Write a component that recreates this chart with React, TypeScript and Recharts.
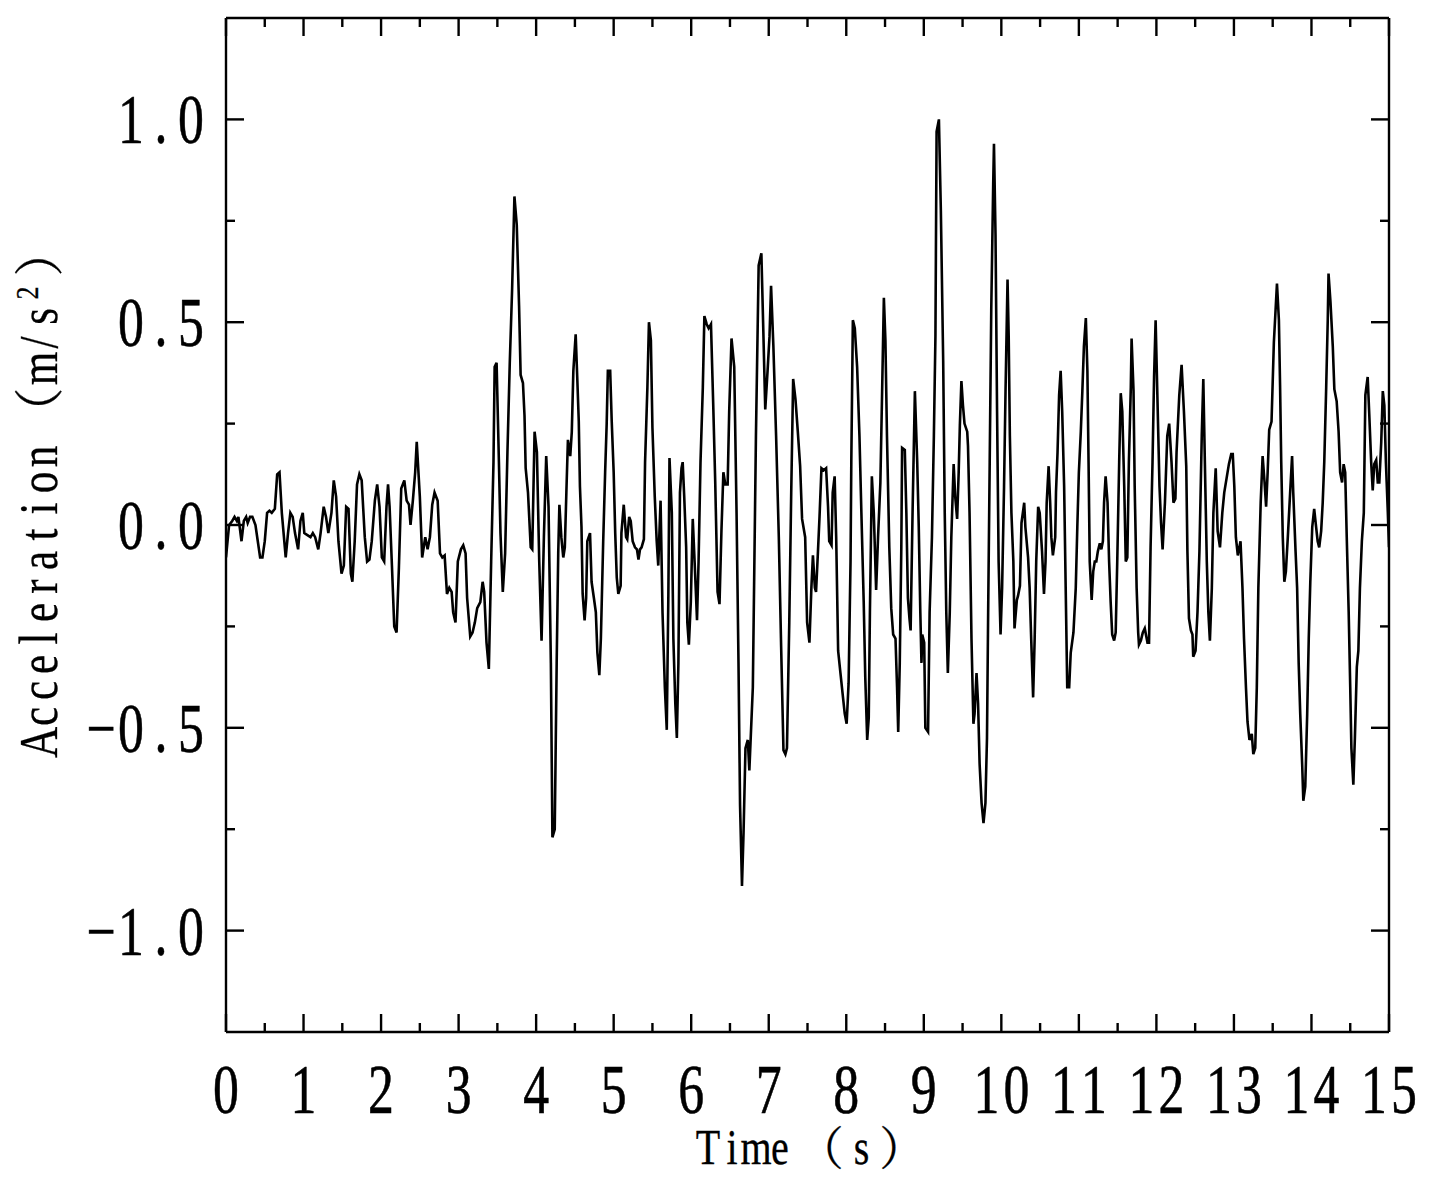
import React from 'react';
import { LineChart, Line, XAxis, YAxis } from 'recharts';

// ---------- data ----------
const time: number[] = [
  0, 0.04, 0.08, 0.11, 0.14, 0.16, 0.20, 0.23, 0.26, 0.28,
  0.31, 0.34, 0.38, 0.41, 0.44, 0.47, 0.50, 0.53, 0.56, 0.59,
  0.63, 0.66, 0.69, 0.72, 0.77, 0.80, 0.83, 0.86, 0.89, 0.93,
  0.96, 0.99, 1.01, 1.05, 1.09, 1.12, 1.15, 1.19, 1.22, 1.26,
  1.29, 1.32, 1.36, 1.39, 1.42, 1.45, 1.49, 1.52, 1.55, 1.58,
  1.61, 1.63, 1.66, 1.69, 1.72, 1.75, 1.79, 1.82, 1.85, 1.88,
  1.92, 1.95, 1.98, 2.01, 2.04, 2.07, 2.09, 2.11, 2.14, 2.17,
  2.20, 2.23, 2.26, 2.30, 2.33, 2.36, 2.38, 2.41, 2.44, 2.46,
  2.50, 2.53, 2.55, 2.57, 2.60, 2.63, 2.66, 2.69, 2.73, 2.76,
  2.79, 2.82, 2.85, 2.88, 2.91, 2.93, 2.96, 2.99, 3.03, 3.06,
  3.09, 3.11, 3.15, 3.18, 3.21, 3.24, 3.28, 3.31, 3.33, 3.36,
  3.39, 3.42, 3.45, 3.465, 3.49, 3.52, 3.54, 3.57, 3.60, 3.63,
  3.66, 3.69, 3.72, 3.75, 3.78, 3.80, 3.83, 3.85, 3.865, 3.895,
  3.93, 3.95, 3.98, 4.01, 4.04, 4.07, 4.10, 4.13, 4.16, 4.19,
  4.21, 4.24, 4.265, 4.285, 4.30, 4.325, 4.35, 4.37, 4.39, 4.41,
  4.44, 4.46, 4.48, 4.51, 4.53, 4.55, 4.565, 4.585, 4.60, 4.625,
  4.645, 4.66, 4.695, 4.715, 4.745, 4.77, 4.79, 4.815, 4.835, 4.865,
  4.89, 4.91, 4.925, 4.955, 4.975, 5.00, 5.02, 5.04, 5.06, 5.09,
  5.10, 5.13, 5.16, 5.175, 5.20, 5.22, 5.245, 5.275, 5.30, 5.32,
  5.34, 5.36, 5.39, 5.405, 5.435, 5.455, 5.48, 5.50, 5.53, 5.555,
  5.575, 5.605, 5.63, 5.66, 5.685, 5.705, 5.72, 5.75, 5.77, 5.795,
  5.815, 5.835, 5.855, 5.875, 5.89, 5.91, 5.935, 5.95, 5.97, 5.995,
  6.02, 6.045, 6.075, 6.095, 6.12, 6.15, 6.17, 6.20, 6.225, 6.255,
  6.285, 6.31, 6.34, 6.365, 6.39, 6.415, 6.44, 6.47, 6.49, 6.52,
  6.555, 6.585, 6.61, 6.63, 6.655, 6.675, 6.70, 6.73, 6.75, 6.795,
  6.835, 6.87, 6.905, 6.93, 6.955, 6.985, 7.01, 7.03, 7.06, 7.095,
  7.13, 7.16, 7.19, 7.215, 7.235, 7.265, 7.29, 7.315, 7.345, 7.375,
  7.405, 7.43, 7.47, 7.495, 7.525, 7.55, 7.57, 7.595, 7.61, 7.635,
  7.655, 7.68, 7.71, 7.74, 7.765, 7.78, 7.81, 7.825, 7.85, 7.87,
  7.895, 7.925, 7.955, 7.98, 8.005, 8.03, 8.055, 8.065, 8.085, 8.11,
  8.14, 8.17, 8.195, 8.225, 8.245, 8.27, 8.29, 8.305, 8.33, 8.355,
  8.385, 8.41, 8.44, 8.46, 8.485, 8.505, 8.525, 8.555, 8.58, 8.605,
  8.635, 8.655, 8.67, 8.69, 8.71, 8.72, 8.755, 8.775, 8.795, 8.815,
  8.83, 8.855, 8.885, 8.915, 8.935, 8.955, 8.97, 8.98, 9.005, 9.02,
  9.055, 9.075, 9.105, 9.13, 9.15, 9.165, 9.195, 9.22, 9.25, 9.27,
  9.29, 9.31, 9.335, 9.355, 9.385, 9.405, 9.43, 9.45, 9.465, 9.485,
  9.505, 9.525, 9.56, 9.57, 9.59, 9.615, 9.64, 9.655, 9.68, 9.70,
  9.72, 9.745, 9.77, 9.795, 9.815, 9.83, 9.85, 9.87, 9.895, 9.905,
  9.925, 9.945, 9.965, 9.99, 10.01, 10.035, 10.055, 10.08, 10.095, 10.11,
  10.13, 10.155, 10.17, 10.20, 10.215, 10.24, 10.26, 10.295, 10.31, 10.345,
  10.365, 10.385, 10.41, 10.43, 10.45, 10.475, 10.495, 10.525, 10.55, 10.57,
  10.585, 10.61, 10.63, 10.645, 10.665, 10.695, 10.705, 10.725, 10.745, 10.765,
  10.785, 10.81, 10.83, 10.85, 10.875, 10.895, 10.93, 10.96, 10.98, 11.00,
  11.025, 11.045, 11.065, 11.09, 11.11, 11.125, 11.14, 11.165, 11.185, 11.205,
  11.225, 11.245, 11.27, 11.29, 11.31, 11.325, 11.345, 11.37, 11.39, 11.41,
  11.43, 11.455, 11.475, 11.495, 11.52, 11.54, 11.56, 11.585, 11.605, 11.625,
  11.645, 11.67, 11.68, 11.705, 11.72, 11.745, 11.765, 11.775, 11.80, 11.825,
  11.85, 11.885, 11.905, 11.925, 11.95, 11.97, 11.99, 12.01, 12.04, 12.06,
  12.08, 12.11, 12.14, 12.165, 12.195, 12.22, 12.245, 12.26, 12.295, 12.325,
  12.355, 12.385, 12.40, 12.42, 12.445, 12.465, 12.475, 12.505, 12.53, 12.555,
  12.585, 12.605, 12.625, 12.65, 12.67, 12.69, 12.715, 12.735, 12.765, 12.79,
  12.82, 12.85, 12.875, 12.905, 12.935, 12.965, 12.985, 13.005, 13.025, 13.05,
  13.07, 13.085, 13.11, 13.13, 13.155, 13.175, 13.20, 13.23, 13.25, 13.275,
  13.295, 13.315, 13.345, 13.37, 13.395, 13.415, 13.435, 13.455, 13.485, 13.515,
  13.555, 13.58, 13.595, 13.61, 13.63, 13.65, 13.67, 13.695, 13.725, 13.75,
  13.765, 13.795, 13.815, 13.835, 13.855, 13.88, 13.895, 13.92, 13.945, 13.965,
  13.985, 14.01, 14.035, 14.06, 14.08, 14.10, 14.125, 14.145, 14.165, 14.19,
  14.21, 14.22, 14.245, 14.275, 14.295, 14.325, 14.35, 14.37, 14.395, 14.415,
  14.435, 14.455, 14.48, 14.50, 14.515, 14.54, 14.56, 14.585, 14.605, 14.625,
  14.65, 14.675, 14.695, 14.725, 14.745, 14.77, 14.79, 14.81, 14.835, 14.855,
  14.875, 14.9, 14.92, 14.94, 14.96, 14.985, 15.0,
];

const accel: number[] = [
  -0.08, 0.0, 0.01, 0.02, 0.01, 0.02, -0.04, 0.01, 0.02, 0.005,
  0.02, 0.02, 0.0, -0.04, -0.08, -0.08, -0.04, 0.03, 0.035, 0.03,
  0.04, 0.125, 0.13, 0.03, -0.08, -0.02, 0.03, 0.02, -0.02, -0.06,
  0.01, 0.03, -0.02, -0.025, -0.03, -0.02, -0.03, -0.06, -0.02, 0.045,
  0.02, -0.02, 0.03, 0.11, 0.07, -0.04, -0.12, -0.10, 0.045, 0.04,
  -0.12, -0.14, -0.04, 0.10, 0.125, 0.11, -0.03, -0.09, -0.085, -0.04,
  0.06, 0.10, 0.045, -0.08, -0.09, 0.045, 0.10, 0.045, -0.10, -0.25,
  -0.265, -0.105, 0.09, 0.11, 0.06, 0.05, 0.0, 0.06, 0.13, 0.205,
  0.07, -0.08, -0.055, -0.03, -0.06, -0.03, 0.05, 0.08, 0.06, -0.07,
  -0.08, -0.075, -0.17, -0.155, -0.165, -0.215, -0.24, -0.09, -0.06, -0.05,
  -0.07, -0.18, -0.275, -0.265, -0.24, -0.205, -0.19, -0.14, -0.165, -0.29,
  -0.355, -0.09, 0.155, 0.39, 0.40, 0.155, -0.02, -0.165, -0.07, 0.18,
  0.40, 0.58, 0.81, 0.74, 0.54, 0.37, 0.35, 0.27, 0.14, 0.08,
  -0.055, -0.06, 0.23, 0.18, -0.09, -0.285, -0.03, 0.17, 0.045, -0.34,
  -0.77, -0.75, -0.34, -0.07, 0.05, -0.03, -0.08, -0.055, 0.08, 0.21,
  0.17, 0.23, 0.38, 0.47, 0.365, 0.255, 0.095, -0.005, -0.17, -0.235,
  -0.18, -0.04, -0.02, -0.14, -0.18, -0.215, -0.315, -0.37, -0.28, -0.04,
  0.13, 0.25, 0.38, 0.38, 0.255, 0.13, -0.02, -0.13, -0.17, -0.15,
  -0.02, 0.05, -0.03, -0.035, 0.02, 0.01, -0.04, -0.055, -0.06, -0.085,
  -0.06, -0.055, -0.035, 0.155, 0.34, 0.50, 0.455, 0.24, 0.07, -0.04,
  -0.10, 0.06, -0.215, -0.40, -0.505, -0.18, 0.165, 0.03, -0.28, -0.44,
  -0.525, -0.34, 0.08, 0.14, 0.155, 0.07, -0.055, -0.24, -0.295, -0.19,
  0.015, -0.095, -0.235, -0.09, 0.155, 0.34, 0.515, 0.495, 0.485, 0.495,
  0.29, 0.105, -0.165, -0.195, -0.015, 0.13, 0.10, 0.10, 0.28, 0.46,
  0.39, 0.03, -0.34, -0.69, -0.89, -0.76, -0.55, -0.53, -0.605, -0.40,
  0.22, 0.64, 0.67, 0.48, 0.285, 0.38, 0.465, 0.59, 0.44, 0.22,
  -0.03, -0.30, -0.555, -0.565, -0.55, -0.24, 0.08, 0.36, 0.31, 0.23,
  0.145, 0.015, -0.03, -0.24, -0.29, -0.155, -0.075, -0.155, -0.165, -0.065,
  0.02, 0.14, 0.135, 0.14, 0.045, -0.04, -0.05, 0.08, 0.12, -0.03,
  -0.31, -0.365, -0.42, -0.465, -0.49, -0.39, -0.09, 0.155, 0.505, 0.485,
  0.39, 0.22, 0.03, -0.19, -0.375, -0.53, -0.475, -0.215, 0.12, 0.03,
  -0.16, -0.03, 0.105, 0.305, 0.56, 0.455, 0.22, -0.055, -0.205, -0.27,
  -0.28, -0.40, -0.51, -0.34, -0.055, 0.19, 0.185, 0.03, -0.18, -0.23,
  -0.26, 0.03, 0.33, 0.155, -0.005, -0.215, -0.34, -0.27, -0.29, -0.50,
  -0.51, -0.215, -0.03, 0.22, 0.465, 0.97, 1.0, 0.775, 0.405, 0.03,
  -0.215, -0.365, -0.215, -0.03, 0.15, 0.07, 0.015, 0.13, 0.245, 0.355,
  0.295, 0.25, 0.23, 0.195, 0.03, -0.28, -0.49, -0.465, -0.365, -0.44,
  -0.59, -0.685, -0.735, -0.685, -0.525, -0.215, 0.155, 0.53, 0.84, 0.94,
  0.715, 0.28, -0.09, -0.27, -0.155, 0.095, 0.34, 0.605, 0.465, 0.22,
  0.03, -0.09, -0.255, -0.185, -0.175, -0.15, 0.005, 0.055, -0.005, -0.08,
  -0.155, -0.28, -0.425, -0.28, -0.09, 0.045, 0.03, -0.065, -0.17, -0.09,
  0.055, 0.145, 0.055, -0.03, -0.075, -0.03, 0.08, 0.18, 0.32, 0.38,
  0.28, 0.095, -0.155, -0.40, -0.40, -0.315, -0.265, -0.155, -0.005, 0.13,
  0.23, 0.33, 0.44, 0.51, 0.38, 0.155, -0.09, -0.185, -0.115, -0.09,
  -0.09, -0.065, -0.045, -0.06, -0.04, 0.055, 0.12, 0.055, -0.09, -0.19,
  -0.27, -0.285, -0.265, -0.09, 0.155, 0.325, 0.28, 0.095, -0.09, -0.08,
  0.155, 0.34, 0.46, 0.33, 0.095, -0.155, -0.265, -0.295, -0.285, -0.265,
  -0.255, -0.29, -0.29, -0.055, 0.155, 0.365, 0.505, 0.34, 0.095, 0.005,
  -0.06, 0.055, 0.22, 0.25, 0.155, 0.055, 0.065, 0.18, 0.32, 0.395,
  0.28, 0.145, -0.065, -0.23, -0.26, -0.27, -0.325, -0.31, -0.215, -0.065,
  0.22, 0.36, 0.155, -0.09, -0.215, -0.285, -0.155, 0.03, 0.14, -0.015,
  -0.055, 0.03, 0.08, 0.115, 0.15, 0.175, 0.175, 0.095, -0.03, -0.075,
  -0.055, -0.04, -0.155, -0.28, -0.40, -0.485, -0.53, -0.515, -0.565, -0.55,
  -0.40, -0.155, 0.055, 0.17, 0.105, 0.045, 0.13, 0.235, 0.255, 0.45,
  0.595, 0.505, 0.345, 0.155, -0.03, -0.14, -0.115, -0.03, 0.08, 0.17,
  0.08, -0.065, -0.155, -0.34, -0.465, -0.59, -0.68, -0.645, -0.465, -0.28,
  -0.14, -0.005, 0.04, -0.005, -0.04, -0.055, -0.015, 0.055, 0.155, 0.34,
  0.505, 0.62, 0.55, 0.44, 0.335, 0.305, 0.23, 0.13, 0.105, 0.15,
  0.13, -0.03, -0.215, -0.40, -0.55, -0.64, -0.525, -0.35, -0.31, -0.155,
  -0.04, 0.03, 0.32, 0.365, 0.275, 0.155, 0.085, 0.15, 0.16, 0.105,
  0.105, 0.205, 0.33, 0.295, 0.155, 0.03, -0.055,
];

const xMajorTicks = [0, 1, 2, 3, 4, 5, 6, 7, 8, 9, 10, 11, 12, 13, 14, 15];
const xMinorTicks = [0.5, 1.5, 2.5, 3.5, 4.5, 5.5, 6.5, 7.5, 8.5, 9.5, 10.5, 11.5, 12.5, 13.5, 14.5];
const yMajorTicks = [-1, -0.5, 0, 0.5, 1];
const yMinorTicks = [-0.75, -0.25, 0.25, 0.75];
const xDomain: [number, number] = [0, 15];
const yDomain: [number, number] = [-1.25, 1.25];
const xLabelText = 'Time（s）';
const yLabelParts = { before: 'Acceleration（m/s', sup: '2', after: '）' };

const data = time.map((t, i) => ({ t, a: accel[i] }));
const xTicks = [...xMajorTicks, ...xMinorTicks].sort((a, b) => a - b);
const yTicks = [...yMajorTicks, ...yMinorTicks].sort((a, b) => a - b);

// ---------- text helpers (monospaced serif look) ----------
const FONT = "'Liberation Serif', 'Noto Serif CJK SC', 'Noto Sans CJK SC', serif";
const isFull = (ch: string) => ch.charCodeAt(0) > 0x2e80;
type Glyph = { ch: string; sup?: boolean };
const toGlyphs = (s: string): Glyph[] => Array.from(s).map((ch) => ({ ch }));

function MonoText(props: {
  x: number; y: number; glyphs: Glyph[]; adv: number; fontSize: number; sx: number;
  anchor: 'start' | 'middle' | 'end'; weight?: number;
}) {
  const { x, y, glyphs, adv, fontSize, sx, anchor, weight = 0 } = props;
  const widths = glyphs.map((g) =>
    g.sup ? adv * 0.8 : isFull(g.ch) ? Math.max(adv * 2, fontSize * 1.15) : adv,
  );
  const total = widths.reduce((a, b) => a + b, 0);
  let cur = anchor === 'middle' ? x - total / 2 : anchor === 'end' ? x - total : x;
  return (
    <g>
      {glyphs.map((g, i) => {
        const cx = cur + widths[i] / 2;
        cur += widths[i];
        const full = isFull(g.ch);
        const fs = g.sup ? fontSize * 0.6 : full ? fontSize * 0.92 : fontSize;
        const by = g.sup ? y - fontSize * 0.36 : y;
        const s = full ? 1 : sx;
        return (
          <text key={i} transform={`translate(${cx},${by}) scale(${s},1)`} textAnchor="middle"
            fontFamily={FONT} fontSize={fs} fill="#000"
            stroke={weight ? '#000' : 'none'} strokeWidth={weight}>{g.ch}</text>
        );
      })}
    </g>
  );
}

// ---------- ticks ----------
const MAJOR_LEN = 18;
const MINOR_LEN = 9;
const STROKE = 2.4;
const TICK_FS = 70;
const fmtY = (v: number) => (v < 0 ? '−' : '') + Math.abs(v).toFixed(1);

function BottomTick(p: any) {
  const { x, y, payload } = p;
  const major = xMajorTicks.includes(payload.value);
  return (
    <g>
      <line x1={x} y1={y} x2={x} y2={y - (major ? MAJOR_LEN : MINOR_LEN)} stroke="#000" strokeWidth={STROKE} />
      {major && (
        <MonoText x={x} y={y + 81} glyphs={toGlyphs(String(payload.value))} adv={30} fontSize={TICK_FS} sx={0.74} anchor="middle" weight={0.6} />
      )}
    </g>
  );
}
function TopTick(p: any) {
  const { x, y, payload } = p;
  const major = xMajorTicks.includes(payload.value);
  return <line x1={x} y1={y} x2={x} y2={y + (major ? MAJOR_LEN : MINOR_LEN)} stroke="#000" strokeWidth={STROKE} />;
}
function LeftTick(p: any) {
  const { x, y, payload } = p;
  const major = yMajorTicks.includes(payload.value);
  return (
    <g>
      <line x1={x} y1={y} x2={x + (major ? MAJOR_LEN : MINOR_LEN)} y2={y} stroke="#000" strokeWidth={STROKE} />
      {major && (
        <MonoText x={x - 20} y={y + 24} glyphs={toGlyphs(fmtY(payload.value))} adv={30} fontSize={TICK_FS} sx={0.74} anchor="end" weight={0.6} />
      )}
    </g>
  );
}
function RightTick(p: any) {
  const { x, y, payload } = p;
  const major = yMajorTicks.includes(payload.value);
  return <line x1={x} y1={y} x2={x - (major ? MAJOR_LEN : MINOR_LEN)} y2={y} stroke="#000" strokeWidth={STROKE} />;
}

const renderXLabel = (p: any) => {
  const vb = p.viewBox || { x: 218, y: 1024, width: 1163, height: 142 };
  return (
    <MonoText x={vb.x + vb.width / 2 + 6} y={vb.y + 132} glyphs={toGlyphs(xLabelText)} adv={24} fontSize={50} sx={0.8} anchor="middle" weight={0.3} />
  );
};
const renderYLabel = (p: any) => {
  const vb = p.viewBox || { x: 0, y: 10, width: 218, height: 1014 };
  const cx = vb.x + 30;
  const cy = vb.y + vb.height / 2 - 37;
  const glyphs: Glyph[] = [
    ...toGlyphs(yLabelParts.before),
    { ch: yLabelParts.sup, sup: true },
    ...toGlyphs(yLabelParts.after),
  ];
  return (
    <g transform={`rotate(-90, ${cx}, ${cy})`}>
      <MonoText x={cx} y={cy + 19} glyphs={glyphs} adv={26} fontSize={54} sx={0.8} anchor="middle" weight={0.3} />
    </g>
  );
};

const axisLine = { stroke: '#000', strokeWidth: STROKE };

export default function App() {
  return (
    <div style={{ width: 1424, height: 1166 }}>
      <LineChart width={1424} height={1166} data={data} margin={{ top: 0, right: 0, bottom: 0, left: 0 }}>
        <XAxis xAxisId="b" dataKey="t" type="number" domain={xDomain} ticks={xTicks} interval={0}
          orientation="bottom" height={142} tickSize={0} tickMargin={0} tickLine={false}
          axisLine={axisLine} tick={(p: any) => <BottomTick {...p} />} allowDataOverflow label={renderXLabel} />
        <XAxis xAxisId="t" dataKey="t" type="number" domain={xDomain} ticks={xTicks} interval={0}
          orientation="top" height={10} tickSize={0} tickMargin={0} tickLine={false}
          axisLine={axisLine} tick={(p: any) => <TopTick {...p} />} allowDataOverflow />
        <YAxis yAxisId="l" type="number" domain={yDomain} ticks={yTicks} interval={0}
          orientation="left" width={218} tickSize={0} tickMargin={0} tickLine={false}
          axisLine={axisLine} tick={(p: any) => <LeftTick {...p} />} allowDataOverflow label={renderYLabel} />
        <YAxis yAxisId="r" type="number" domain={yDomain} ticks={yTicks} interval={0}
          orientation="right" width={43} tickSize={0} tickMargin={0} tickLine={false}
          axisLine={axisLine} tick={(p: any) => <RightTick {...p} />} allowDataOverflow />
        <Line xAxisId="b" yAxisId="l" type="linear" dataKey="a" stroke="#000" strokeWidth={2.6}
          dot={false} activeDot={false} isAnimationActive={false} />
      </LineChart>
    </div>
  );
}
